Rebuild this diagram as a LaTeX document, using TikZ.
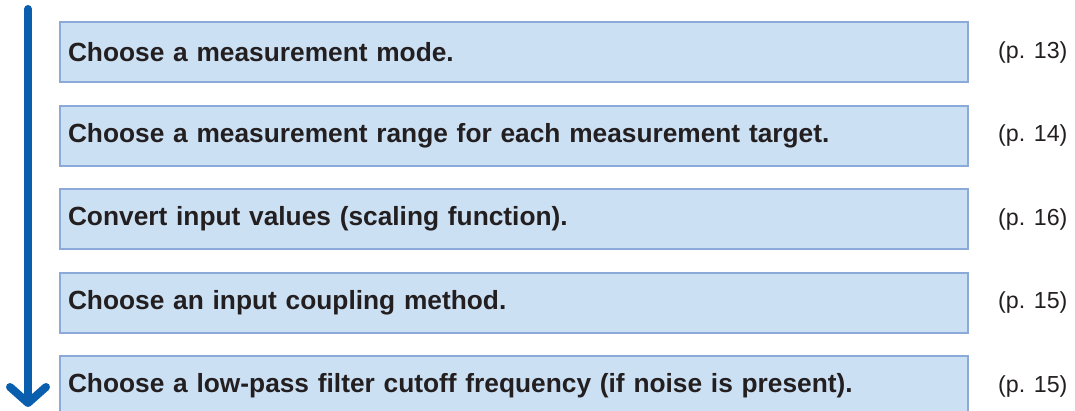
\documentclass[tikz,border=0pt]{standalone}
\usepackage{fontspec}
\setmainfont{Liberation Sans}
\usetikzlibrary{positioning,arrows.meta}
\definecolor{stepfill}{HTML}{CCE0F4}
\definecolor{stepline}{HTML}{8BA9D9}
\definecolor{flowblue}{HTML}{0A5EAE}
\definecolor{steptext}{HTML}{231F20}
\tikzstyle{stepbox}=[
	rectangle,
	draw=stepline,
	fill=stepfill,
	line width=2pt,
	outer sep=0pt,
	inner xsep=8pt,
	text=steptext,
	text width=892pt,
	align=left,
	minimum height=60pt,
	font=\fontsize{26.3}{30}\selectfont\bfseries]
\tikzstyle{pageref}=[
	inner sep=0pt,
	text=steptext,
	font=\fontsize{23.2}{28}\selectfont]

\begin{document}
\begin{tikzpicture}[x=1pt,y=-1pt,node distance=23.5pt]
	\clip (0,0) rectangle (1075,410);
	\fill[white] (0,0) rectangle (1075,410);

		\node (mode) [stepbox, anchor=north west] at (60,22) {Choose a measurement mode.};
		\node (range) [stepbox, below=of mode] {Choose a measurement range for each measurement target.};
		\node (scaling) [stepbox, below=of range] {Convert input values (scaling function).};
		\node (coupling) [stepbox, below=of scaling] {Choose an input coupling method.};
		\node (filter) [stepbox, below=of coupling] {Choose a low-pass filter cutoff frequency (if noise is present).};

		\node (pmode) [pageref, right=30pt of mode] {(p. 13)};
		\node (prange) [pageref, right=30pt of range] {(p. 14)};
		\node (pscaling) [pageref, right=30pt of scaling] {(p. 16)};
		\node (pcoupling) [pageref, right=30pt of coupling] {(p. 15)};
		\node (pfilter) [pageref, right=30pt of filter] {(p. 15)};

		\coordinate (flowstart) at (28,9);
		\coordinate (flowend) at (28,407);
		\draw[flowblue, line width=8pt, line cap=round,
			-{Straight Barb[length=16pt, width=36pt, line cap=round, line join=round]}]
			(flowstart) -- (flowend);

	\end{tikzpicture}
\end{document}
